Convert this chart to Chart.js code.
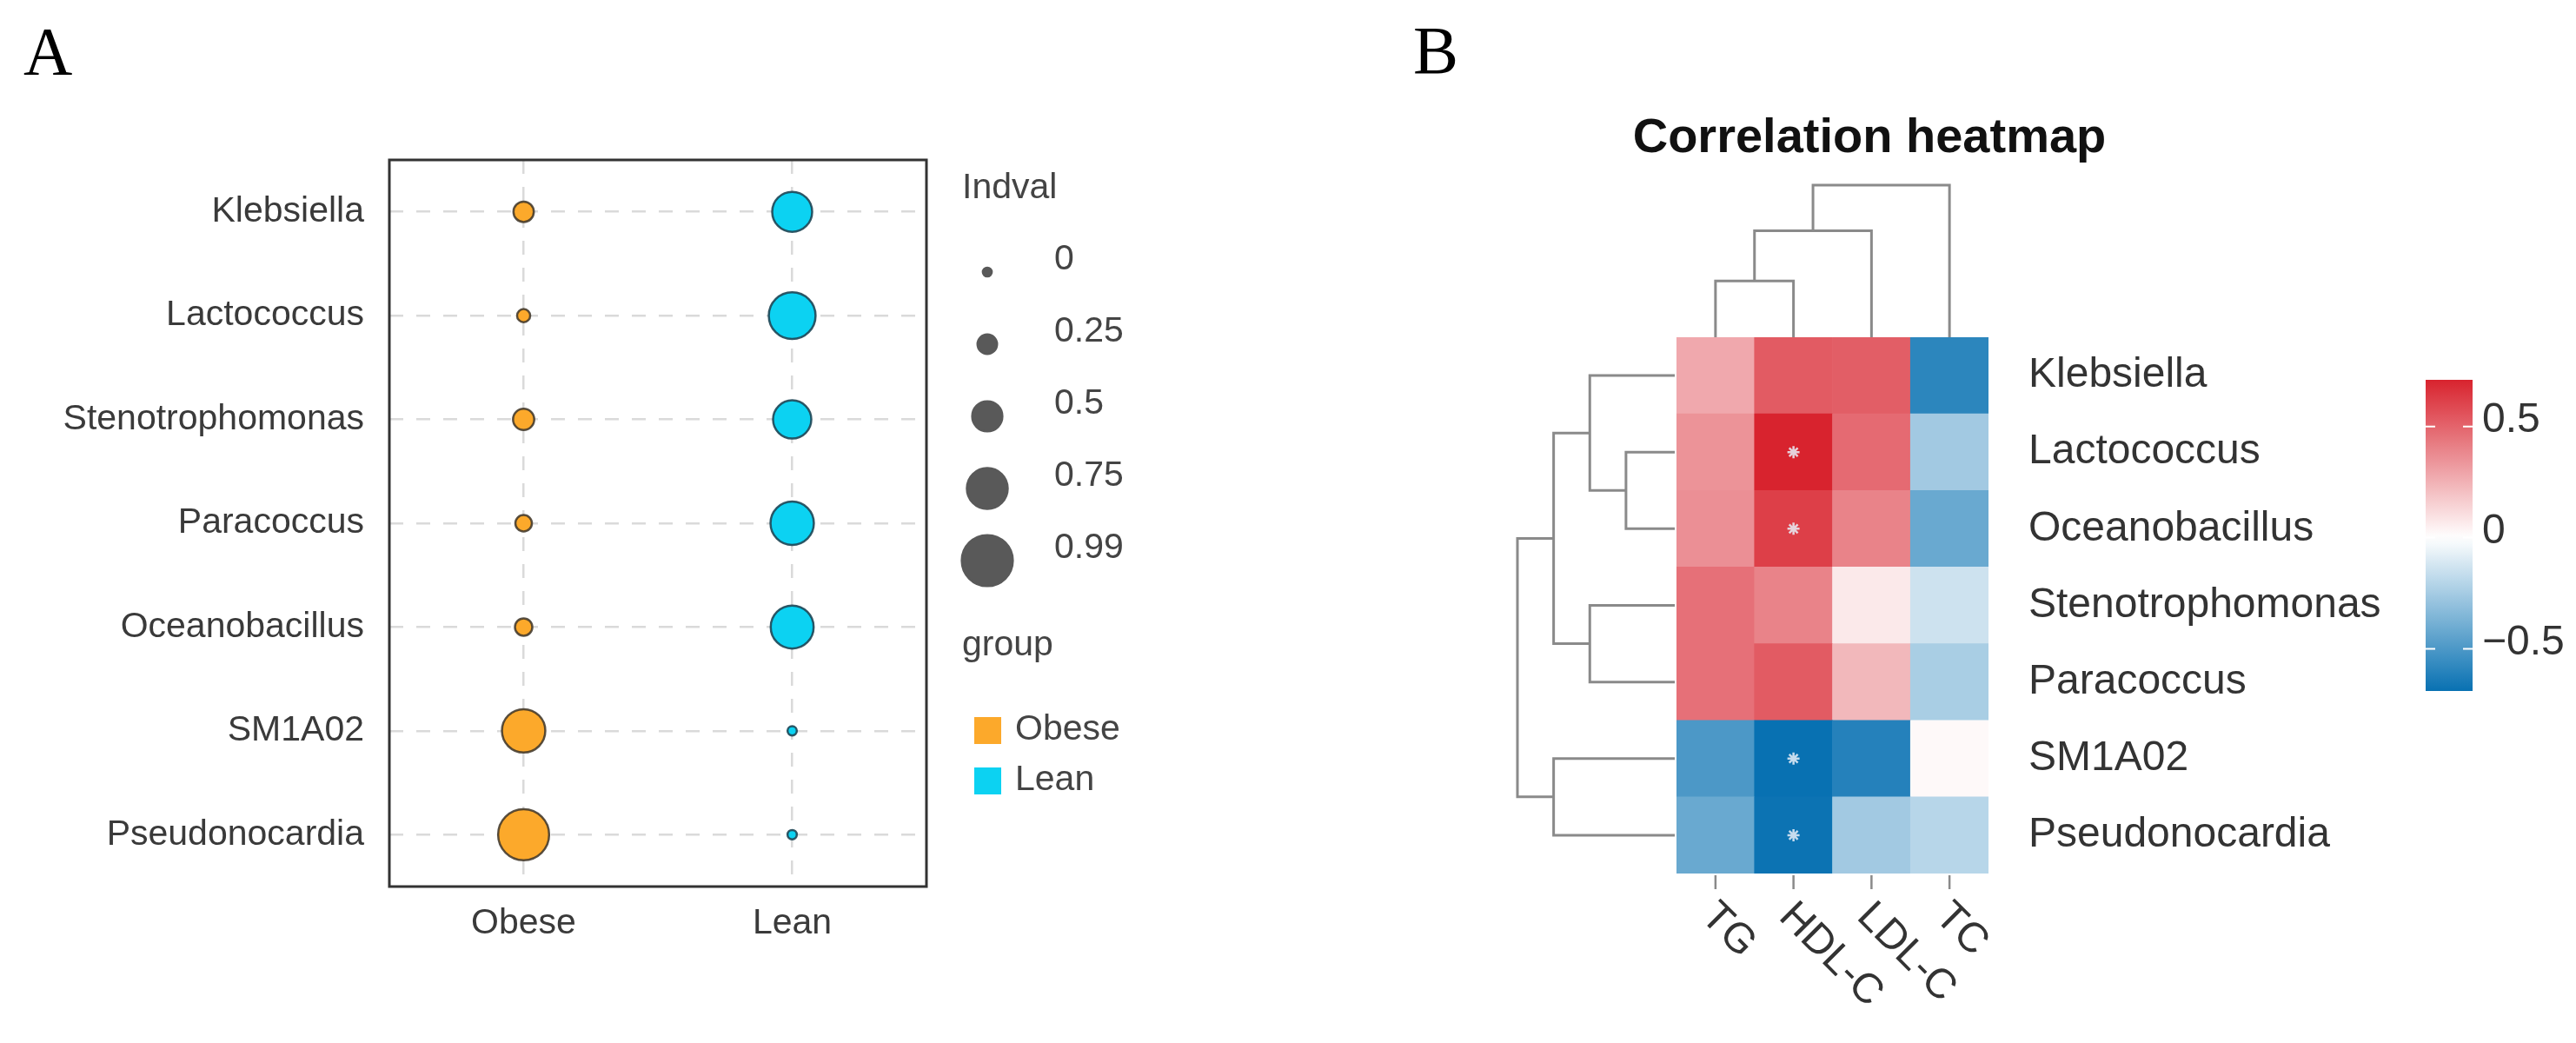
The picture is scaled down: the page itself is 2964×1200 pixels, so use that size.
<!DOCTYPE html>
<html lang="en">
<head>
  <meta charset="UTF-8">
  <title>Indicator genera and correlation heatmap</title>
  <script src="https://cdn.jsdelivr.net/npm/chart.js"></script>
  <style>
    html, body {
      margin: 0;
      padding: 0;
      background: #ffffff;
    }

    body {
      position: relative;
      width: 2964px;
      height: 1200px;
      overflow: hidden;
    }

    canvas {
      position: absolute;
      top: 0;
    }

    #chartA { left: 0; }
    #chartB { left: 1480px; }
  </style>
</head>
<body>
  <canvas id="chartA" width="1480" height="1200"></canvas>
  <canvas id="chartB" width="1484" height="1200"></canvas>

  <script>
    // Panel A: indicator values per genus and group
    const taxaA = ['Klebsiella', 'Lactococcus', 'Stenotrophomonas', 'Paracoccus', 'Oceanobacillus', 'SM1A02', 'Pseudonocardia'];
    const groups = ['Obese', 'Lean'];
    const indvalObese = [0.27, 0.10, 0.29, 0.18, 0.20, 0.81, 0.99];
    const indvalLean = [0.73, 0.89, 0.69, 0.81, 0.80, 0.01, 0.01];
    const sizeBreaks = [0, 0.25, 0.5, 0.75, 0.99];

    // Panel B: correlation of genera with serum lipids (rows in clustered order)
    const taxaB = ['Klebsiella', 'Lactococcus', 'Oceanobacillus', 'Stenotrophomonas', 'Paracoccus', 'SM1A02', 'Pseudonocardia'];
    const lipids = ['TG', 'HDL-C', 'LDL-C', 'TC'];
    const corrTG = [0.28, 0.35, 0.36, 0.46, 0.46, -0.50, -0.42];
    const corrHDL = [0.53, 0.71, 0.62, 0.40, 0.53, -0.69, -0.68];
    const corrLDL = [0.52, 0.48, 0.40, 0.07, 0.23, -0.61, -0.26];
    const corrTC = [-0.59, -0.26, -0.42, -0.14, -0.24, 0.02, -0.20];
    const significant = [['Lactococcus', 'HDL-C'], ['Oceanobacillus', 'HDL-C'], ['SM1A02', 'HDL-C'], ['Pseudonocardia', 'HDL-C']];
    const colorbarTicks = [0.5, 0, -0.5];

    // hclust style merges: negative = leaf (1-based), positive = earlier merge
    const colMerge = [[-1, -2], [1, -3], [2, -4]];
    const colHeight = [0.37, 0.70, 1.0];
    const rowMerge = [[-2, -3], [-1, 1], [-4, -5], [2, 3], [-6, -7], [4, 5]];
    const rowHeight = [0.31, 0.54, 0.54, 0.77, 0.77, 1.0];

    Chart.defaults.font.family = '"Liberation Sans", Arial, sans-serif';

    const SANS = '"Liberation Sans", Arial, sans-serif';
    const SERIF = '"Liberation Serif", "Times New Roman", serif';

    function bubbleRadius(v) {
      return 5.1 + 24.5 * v;
    }

    const corrByLipid = [corrTG, corrHDL, corrLDL, corrTC];
    const allCorr = [].concat(...corrByLipid);
    const corrMin = Math.min(...allCorr);
    const corrMax = Math.max(...allCorr);
    const blueEnd = [8, 113, 178];
    const redEnd = [216, 35, 46];

    function corrColor(v) {
      const end = v >= 0 ? redEnd : blueEnd;
      const t = Math.min(1, v >= 0 ? v / corrMax : v / corrMin);
      const c = end.map(e => Math.round(255 + (e - 255) * t));
      return 'rgb(' + c.join(',') + ')';
    }

    function fmtTick(v) {
      if (v === 0) return '0';
      return v < 0 ? '\u2212' + Math.abs(v) : String(v);
    }

    // ---------- panel A ----------
    const panelA = {
      id: 'panelA',
      afterDraw(chart) {
        const { ctx, chartArea: a } = chart;
        ctx.save();
        ctx.strokeStyle = '#333333';
        ctx.lineWidth = 3;
        ctx.strokeRect(a.left, a.top, a.right - a.left, a.bottom - a.top);

        ctx.fillStyle = '#000000';
        ctx.font = '78px ' + SERIF;
        ctx.textAlign = 'left';
        ctx.textBaseline = 'alphabetic';
        ctx.fillText('A', 27, 85);

        // size legend
        ctx.font = '41px ' + SANS;
        ctx.textBaseline = 'middle';
        ctx.fillStyle = '#444444';
        ctx.fillText('Indval', 1107, 217);
        sizeBreaks.forEach((v, i) => {
          const y = 313 + i * 83;
          ctx.beginPath();
          ctx.arc(1136, y, bubbleRadius(v), 0, Math.PI * 2);
          ctx.fillStyle = '#595959';
          ctx.fill();
          ctx.lineWidth = 2.5;
          ctx.strokeStyle = '#595959';
          ctx.stroke();
          ctx.fillStyle = '#444444';
          ctx.fillText(String(v), 1213, y - 14);
        });

        // group legend
        ctx.fillText('group', 1107, 743);
        const keyColors = chart.data.datasets.map(d => d.backgroundColor);
        groups.forEach((g, i) => {
          const y = 840 + i * 58;
          ctx.fillStyle = keyColors[i];
          ctx.fillRect(1121, y - 15, 31, 31);
          ctx.fillStyle = '#444444';
          ctx.fillText(g, 1168, y);
        });
        ctx.restore();
      }
    };

    const gridA = { color: '#dadada', lineWidth: 2.5, drawTicks: false };

    new Chart(document.getElementById('chartA'), {
      type: 'bubble',
      data: {
        datasets: [
          {
            label: 'Obese',
            data: taxaA.map((t, i) => ({ x: 1, y: i + 1, r: bubbleRadius(indvalObese[i]) })),
            backgroundColor: '#fca92b',
            borderColor: 'rgba(60, 52, 40, 0.85)',
            borderWidth: 2.5
          },
          {
            label: 'Lean',
            data: taxaA.map((t, i) => ({ x: 2, y: i + 1, r: bubbleRadius(indvalLean[i]) })),
            backgroundColor: '#0cd2f2',
            borderColor: 'rgba(30, 70, 85, 0.9)',
            borderWidth: 2.5
          }
        ]
      },
      options: {
        responsive: false,
        animation: false,
        devicePixelRatio: 1,
        layout: { padding: { left: 0, top: 184, right: 414, bottom: 100 } },
        plugins: { legend: { display: false }, tooltip: { enabled: false } },
        scales: {
          x: {
            type: 'linear',
            min: 0.5,
            max: 2.5,
            afterBuildTicks(s) { s.ticks = groups.map((g, i) => ({ value: i + 1 })); },
            afterFit(s) { s.height = 80; },
            ticks: { callback: v => groups[v - 1], font: { size: 41 }, color: '#3a3a3a', padding: 18 },
            grid: gridA,
            border: { display: false, dash: [16, 15] }
          },
          y: {
            type: 'linear',
            reverse: true,
            min: 0.5,
            max: 7.5,
            afterBuildTicks(s) { s.ticks = taxaA.map((t, i) => ({ value: i + 1 })); },
            afterFit(s) { s.width = 448; },
            ticks: { callback: v => taxaA[v - 1], font: { size: 41 }, color: '#3a3a3a', padding: 29 },
            grid: gridA,
            border: { display: false, dash: [16, 15] }
          }
        }
      },
      plugins: [panelA]
    });

    // ---------- panel B ----------
    function drawTree(ctx, merge, height, leafPos, toXY) {
      const pos = [];
      const hts = [];
      const at = ref => ref < 0 ? [leafPos[-ref - 1], 0] : [pos[ref - 1], hts[ref - 1]];
      merge.forEach(([a, b], k) => {
        const [pa, ha] = at(a);
        const [pb, hb] = at(b);
        const h = height[k];
        const pts = [toXY(pa, ha), toXY(pa, h), toXY(pb, h), toXY(pb, hb)];
        ctx.beginPath();
        ctx.moveTo(pts[0][0], pts[0][1]);
        pts.slice(1).forEach(p => ctx.lineTo(p[0], p[1]));
        ctx.stroke();
        pos.push((pa + pb) / 2);
        hts.push(h);
      });
    }

    const panelB = {
      id: 'panelB',
      afterDraw(chart) {
        const { ctx, chartArea: a } = chart;
        const xs = chart.scales.x;
        const ys = chart.scales.y;
        ctx.save();

        ctx.fillStyle = '#000000';
        ctx.font = '78px ' + SERIF;
        ctx.textAlign = 'left';
        ctx.textBaseline = 'alphabetic';
        ctx.fillText('B', 146, 84);

        ctx.font = 'bold 56px ' + SANS;
        ctx.textAlign = 'center';
        ctx.textBaseline = 'middle';
        ctx.fillStyle = '#111111';
        ctx.fillText('Correlation heatmap', 671, 160);

        // dendrograms
        ctx.strokeStyle = '#8a8a8a';
        ctx.lineWidth = 3;
        ctx.lineJoin = 'miter';
        const colCenters = lipids.map((l, j) => xs.getPixelForValue(j));
        drawTree(ctx, colMerge, colHeight, colCenters, (p, h) => [p, a.top - h * 175]);
        const rowCenters = taxaB.map((t, i) => ys.getPixelForValue(taxaB.length - 0.5 - i));
        drawTree(ctx, rowMerge, rowHeight, rowCenters, (p, h) => [a.left - 2 - h * 181, p]);

        // column ticks and rotated labels
        ctx.strokeStyle = '#8a8a8a';
        ctx.lineWidth = 2.5;
        ctx.font = '48px ' + SANS;
        ctx.fillStyle = '#333333';
        ctx.textAlign = 'left';
        ctx.textBaseline = 'middle';
        colCenters.forEach((cx, j) => {
          ctx.beginPath();
          ctx.moveTo(cx, a.bottom + 2);
          ctx.lineTo(cx, a.bottom + 18);
          ctx.stroke();
          ctx.save();
          ctx.translate(cx - 9, a.bottom + 42);
          ctx.rotate(Math.PI / 4);
          ctx.fillText(lipids[j], 0, 0);
          ctx.restore();
        });

        // colour bar
        const cb = { x: 1311, y: 437, w: 54, h: 358 };
        const grad = ctx.createLinearGradient(0, cb.y, 0, cb.y + cb.h);
        for (let k = 0; k <= 40; k++) {
          grad.addColorStop(k / 40, corrColor(corrMax - (corrMax - corrMin) * k / 40));
        }
        ctx.fillStyle = grad;
        ctx.fillRect(cb.x, cb.y, cb.w, cb.h);
        ctx.strokeStyle = '#ffffff';
        ctx.lineWidth = 2;
        colorbarTicks.forEach(v => {
          const y = cb.y + (corrMax - v) / (corrMax - corrMin) * cb.h;
          ctx.beginPath();
          ctx.moveTo(cb.x, y);
          ctx.lineTo(cb.x + 11, y);
          ctx.moveTo(cb.x + cb.w - 11, y);
          ctx.lineTo(cb.x + cb.w, y);
          ctx.stroke();
          ctx.fillStyle = '#333333';
          ctx.fillText(fmtTick(v), cb.x + cb.w + 11, y - 7);
        });
        ctx.restore();
      }
    };

    const cellSets = taxaB.map((name, i) => ({
      type: 'bar',
      label: name,
      data: lipids.map(() => 1),
      backgroundColor: corrByLipid.map(col => corrColor(col[i])),
      borderWidth: 0,
      barPercentage: 1,
      categoryPercentage: 1
    })).reverse();

    const starSet = {
      type: 'scatter',
      label: 'p < 0.05',
      order: -1,
      data: significant.map(([t, l]) => ({ x: l, y: taxaB.length - 0.5 - taxaB.indexOf(t) })),
      pointStyle: 'star',
      radius: 7,
      borderColor: 'rgba(232, 238, 248, 0.85)',
      borderWidth: 2.5
    };

    new Chart(document.getElementById('chartB'), {
      type: 'bar',
      data: {
        labels: lipids,
        datasets: cellSets.concat([starSet])
      },
      options: {
        responsive: false,
        animation: false,
        devicePixelRatio: 1,
        layout: { padding: { left: 449, top: 388, right: 186, bottom: 95 } },
        plugins: { legend: { display: false }, tooltip: { enabled: false } },
        scales: {
          x: {
            type: 'category',
            stacked: true,
            grid: { display: false },
            border: { display: false },
            ticks: { display: false },
            afterFit(s) { s.height = 100; }
          },
          y: {
            type: 'linear',
            stacked: true,
            min: 0,
            max: taxaB.length,
            position: 'right',
            grid: { display: false },
            border: { display: false },
            afterBuildTicks(s) { s.ticks = taxaB.map((t, i) => ({ value: taxaB.length - 0.5 - i })); },
            afterFit(s) { s.width = 490; },
            ticks: {
              callback: v => taxaB[Math.round(taxaB.length - 0.5 - v)],
              font: { size: 48 },
              color: '#333333',
              padding: 38
            }
          }
        }
      },
      plugins: [panelB]
    });
  </script>
</body>
</html>
